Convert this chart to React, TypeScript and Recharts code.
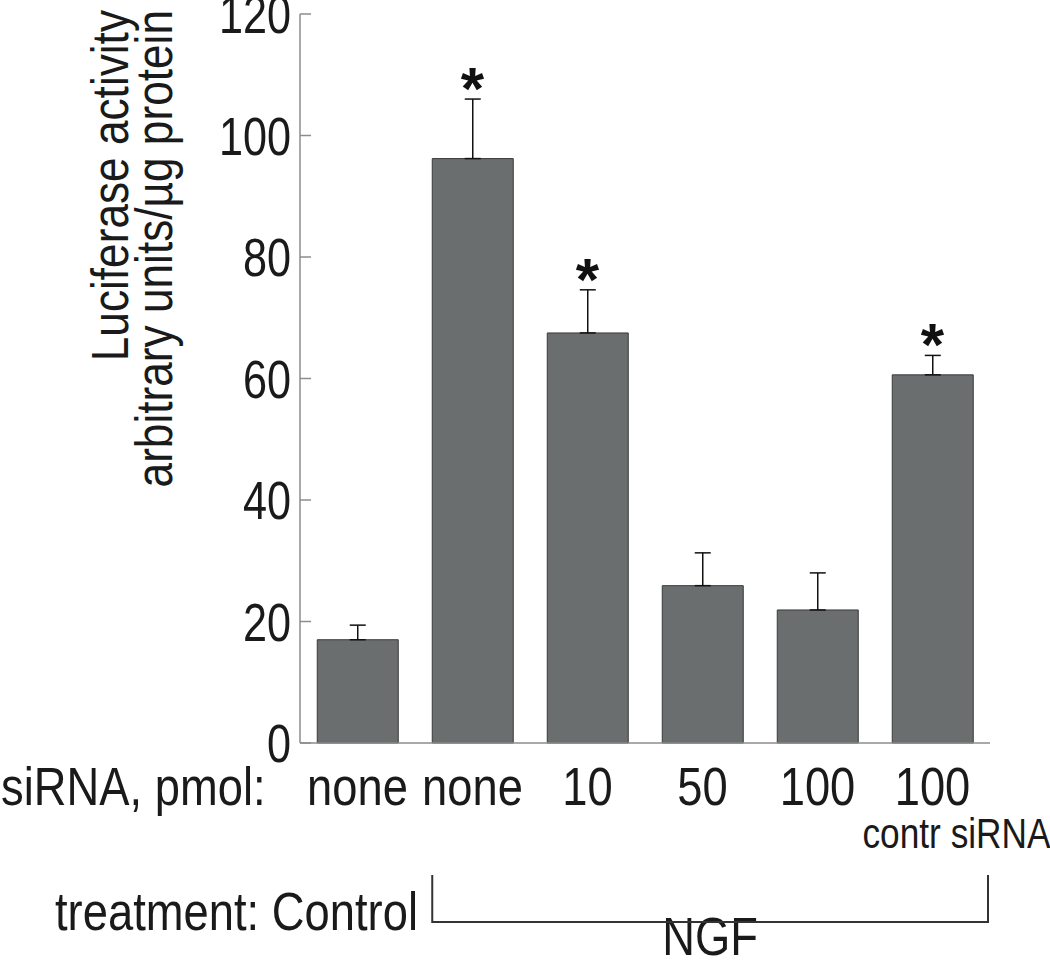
import React from 'react';
import {
  ComposedChart,
  Bar,
  ErrorBar,
  Scatter,
  XAxis,
  YAxis,
} from 'recharts';

// bar order left to right
const categories = ['ctrl-none', 'ngf-none', 'ngf-10', 'ngf-50', 'ngf-100', 'ngf-100-contr'];
const doseLabels = ['none', 'none', '10', '50', '100', '100'];
const activity = [17, 96.2, 67.5, 25.9, 21.9, 60.6];
const sem = [2.4, 9.8, 7.1, 5.4, 6.1, 3.2];
const significant = [false, true, true, false, false, true];
const yTicks = [0, 20, 40, 60, 80, 100, 120];

const W = 1050;
const H = 960;
const PLOT_LEFT = 300;
const PLOT_RIGHT = 990;
const PLOT_TOP = 14;
const PLOT_BOTTOM = 743;
const FONT = "'Liberation Sans', Arial, sans-serif";
const INK = '#1a1a1a';
const AXIS = '#8c8c8c';

const data = categories.map((key, i) => ({
  key,
  label: doseLabels[i],
  activity: activity[i],
  err: [0, sem[i]],
  starAt: significant[i] ? activity[i] + sem[i] : null,
}));

// the figure is set in a condensed sans, so squeeze Liberation Sans horizontally
const Narrow = ({ x, y, size = 54, squeeze = 0.84, anchor = 'start', rotate = false, children }: any) => (
  <text
    transform={`translate(${x},${y})${rotate ? ' rotate(-90)' : ''} scale(${squeeze},1)`}
    textAnchor={anchor}
    fontFamily={FONT}
    fontSize={size}
    fill={INK}
  >
    {children}
  </text>
);

const YTick = ({ x, y, payload }: any) => (
  <g>
    <line x1={x} y1={y} x2={x + 11} y2={y} stroke={AXIS} strokeWidth={1.5} />
    <Narrow x={x - 9} y={y + 19} squeeze={0.8} anchor="end">{payload.value}</Narrow>
  </g>
);

const XTick = ({ x, y, index }: any) => (
  <g>
    <Narrow x={x} y={y + 62} anchor="middle">{doseLabels[index]}</Narrow>
    {index === categories.length - 1 && (
      <Narrow x={x + 24} y={y + 105} size={42} anchor="middle">contr siRNA</Narrow>
    )}
  </g>
);

const Star = ({ cx, cy, payload }: any) => {
  if (payload == null || payload.starAt == null) return null;
  return (
    <text x={cx} y={cy + 10} textAnchor="middle" fontFamily={FONT} fontWeight="bold" fontSize={60} fill="#111">
      *
    </text>
  );
};

export default function App() {
  const band = (PLOT_RIGHT - PLOT_LEFT) / categories.length;
  const brLeft = PLOT_LEFT + band * 1.15;
  const brRight = PLOT_RIGHT - 2;

  return (
    <div style={{ position: 'absolute', left: 0, top: 0, width: W, height: H, background: '#fff' }}>
      <ComposedChart
        width={W}
        height={H}
        data={data}
        margin={{ top: PLOT_TOP, right: W - PLOT_RIGHT, left: 220, bottom: 0 }}
        barCategoryGap="15%"
      >
        <XAxis
          dataKey="key"
          interval={0}
          height={H - PLOT_BOTTOM}
          tickLine={false}
          tickSize={0}
          tickMargin={0}
          axisLine={{ stroke: AXIS, strokeWidth: 1.5 }}
          tick={<XTick />}
        />
        <YAxis
          width={80}
          domain={[0, 120]}
          ticks={yTicks}
          tickLine={false}
          tickSize={0}
          tickMargin={0}
          axisLine={{ stroke: AXIS, strokeWidth: 1.5 }}
          tick={<YTick />}
        />
        <Bar dataKey="activity" fill="#6a6e6e" stroke="#3a3a3a" strokeWidth={1} isAnimationActive={false}>
          <ErrorBar dataKey="err" direction="y" width={8} stroke="#111" strokeWidth={1.5} />
        </Bar>
        <Scatter dataKey="starAt" shape={<Star />} isAnimationActive={false} />
      </ComposedChart>

      <svg width={W} height={H} style={{ position: 'absolute', left: 0, top: 0, pointerEvents: 'none' }}>
        <Narrow x={128} y={10} size={52} squeeze={0.85} anchor="end" rotate>Luciferase activity</Narrow>
        <Narrow x={172} y={10} size={52} squeeze={0.85} anchor="end" rotate>arbitrary units/µg protein</Narrow>
        <Narrow x={1} y={805}>siRNA, pmol:</Narrow>
        <Narrow x={55} y={930}>treatment: Control</Narrow>
        <Narrow x={(brLeft + brRight) / 2} y={955} anchor="middle">NGF</Narrow>
        <path
          d={`M${brLeft} 875 V922 H${brRight} V875`}
          fill="none"
          stroke="#333"
          strokeWidth={2}
        />
      </svg>
    </div>
  );
}
